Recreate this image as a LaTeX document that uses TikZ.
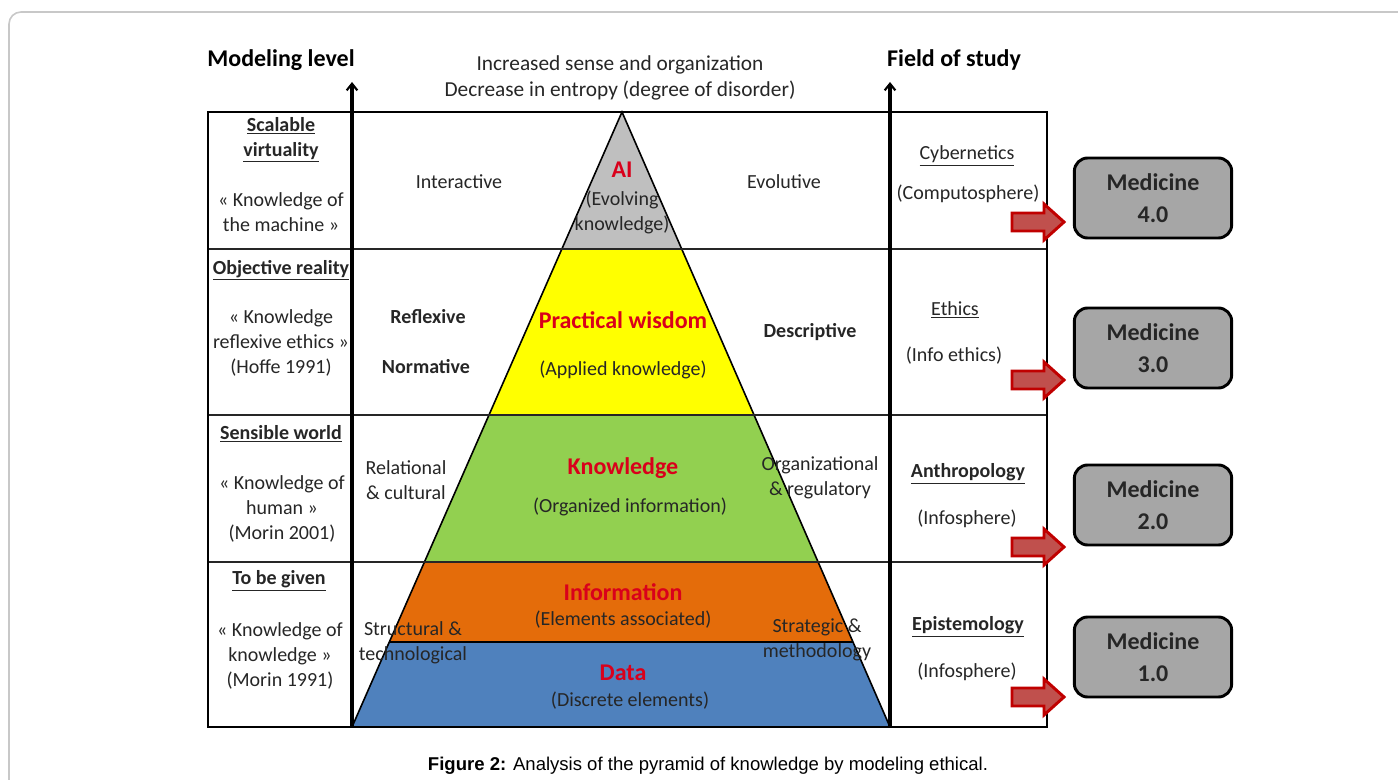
\documentclass[tikz,border=0pt]{standalone}
\usepackage{fontspec}
\setmainfont{Carlito}
\newfontfamily\capfont{Liberation Sans}
\usetikzlibrary{calc,arrows.meta}
\definecolor{framegray}{HTML}{C8C8C8}
\definecolor{aigray}{HTML}{BFBFBF}
\definecolor{wisyellow}{HTML}{FFFF00}
\definecolor{knowgreen}{HTML}{92D050}
\definecolor{infoorange}{HTML}{E46C0A}
\definecolor{datablue}{HTML}{4F81BD}
\definecolor{titlered}{HTML}{D9001B}
\definecolor{medgray}{HTML}{A6A6A6}
\definecolor{arrowfill}{HTML}{C0504D}
\definecolor{arrowdraw}{HTML}{C00000}
\definecolor{inkgray}{HTML}{262626}
\tikzset{
  txt/.style={font=\fontsize{15}{18.75}\selectfont, align=center, inner sep=0pt, text=inkgray},
  btxt/.style={txt, font=\fontsize{15}{18.75}\selectfont\bfseries},
  head/.style={inner sep=0pt, font=\fontsize{18}{22}\selectfont\bfseries},
  layer/.style={inner sep=0pt, text=titlered, font=\fontsize{18}{22}\selectfont\bfseries},
  rowline/.style={draw=inkgray, line width=1.1pt},
  axis/.style={line width=2.6pt, -{Straight Barb[length=5pt,width=8pt,line width=1.6pt]}},
  redarrow/.style={fill=arrowfill, draw=arrowdraw, line width=2.2pt},
  medbox/.style={draw, line width=2.2pt, rounded corners=10pt, fill=medgray, align=center,
    minimum width=118pt, minimum height=60pt, inner sep=0pt,
    font=\fontsize{18}{24}\selectfont\bfseries, text=inkgray}
}
\begin{document}
\begin{tikzpicture}[x=0.75pt,y=-0.75pt]
  \useasboundingbox (0,0) rectangle (1398,780);
  \draw[framegray, line width=1.2pt, rounded corners=9pt] (9,12) rectangle (1430,810);

  % pyramid layers
  \coordinate (apex) at (622,112);
  \coordinate (bl) at (352,727);
  \coordinate (br) at (890,727);
  \begin{scope}
    \clip (apex) -- (bl) -- (br) -- cycle;
    \fill[aigray] (352,112) rectangle (890,249);
    \fill[wisyellow] (352,249) rectangle (890,415);
    \fill[knowgreen] (352,415) rectangle (890,562);
    \fill[infoorange] (352,562) rectangle (890,642);
    \fill[datablue] (352,642) rectangle (890,727);
  \end{scope}
  \draw[line width=2pt] ($(apex)!0.8618!(bl)$) -- ($(apex)!0.8618!(br)$);
  \draw[line width=1.2pt] (bl) -- (apex) -- (br);

  % table
  \foreach \y in {249,415,562}
    \draw[rowline] (208,\y) -- (1047,\y);
  \draw[line width=1.4pt] (208,112) rectangle (1047,727);
  \coordinate (lvb) at (352,727);
  \coordinate (lvt) at (352,82);
  \coordinate (rvb) at (890,727);
  \coordinate (rvt) at (890,82);
  \draw[axis] (lvb) -- (lvt);
  \draw[axis] (rvb) -- (rvt);

  % headings
  \node[head] (hmodel) at (281,60) {Modeling level};
  \node[head] (hfield) at (954,60) {Field of study};
  \node[txt, font=\fontsize{16}{19}\selectfont] (hsense) at (620,78) {Increased sense and organization\\Decrease in entropy (degree of disorder)};

  % modeling level column
  \node[btxt] (scal) at (281,140) {\underline{Scalable}\\\underline{virtuality}};
  \node[txt] (scalq) at (281,212) {« Knowledge of\\the machine »};
  \node[btxt] (obj) at (281,270) {\underline{Objective reality}};
  \node[txt] (objq) at (281,343) {« Knowledge\\reflexive ethics »\\(Hoffe 1991)};
  \node[btxt] (sens) at (281,434) {\underline{Sensible world}};
  \node[txt] (sensq) at (282,509) {« Knowledge of\\human »\\(Morin 2001)};
  \node[btxt] (given) at (279,581) {\underline{To be given}};
  \node[txt] (givenq) at (280,656) {« Knowledge of\\knowledge »\\(Morin 1991)};

  % side labels
  \node[txt] (inter) at (459,182) {Interactive};
  \node[btxt] (refl) at (428,317) {Reflexive};
  \node[btxt] (norm) at (426,367) {Normative};
  \node[txt] (relat) at (406,480) {Relational\\\& cultural};
  \node[txt] (struct) at (413,643) {Structural \&\\technological};
  \node[txt] (evol) at (784,182) {Evolutive};
  \node[btxt] (descr) at (810,332) {Descriptive};
  \node[txt] (organ) at (820,478) {Organizational\\\& regulatory};
  \node[txt] (strat) at (817,640) {Strategic \&\\methodology};

  % pyramid labels
  \node[layer] (ai) at (622,170) {AI};
  \node[txt] (aisub) at (622,212) {(Evolving\\knowledge)};
  \node[layer] (wis) at (623,320) {Practical wisdom};
  \node[txt] (wissub) at (623,370) {(Applied knowledge)};
  \node[layer] (know) at (623,468) {Knowledge};
  \node[txt] (knowsub) at (630,507) {(Organized information)};
  \node[layer] (info) at (623,592) {Information};
  \node[txt] (infosub) at (623,620) {(Elements associated)};
  \node[layer] (data) at (623,673) {Data};
  \node[txt] (datasub) at (630,701) {(Discrete elements)};

  % field of study column
  \node[txt] (cyb) at (967,156) {\underline{Cybernetics}};
  \node[txt] (cybq) at (968,194) {(Computosphere)};
  \node[txt] (eth) at (955,310) {\underline{Ethics}};
  \node[txt] (ethq) at (954,356) {(Info ethics)};
  \node[btxt] (anth) at (968,474) {\underline{Anthropology}};
  \node[txt] (anthq) at (967,519) {(Infosphere)};
  \node[btxt] (epis) at (968,627) {\underline{Epistemology}};
  \node[txt] (episq) at (967,672) {(Infosphere)};

  % arrows to medicine
  \foreach \y in {222,380,547,697}
    \filldraw[redarrow] (1012,\y-9) -- (1044,\y-9) -- (1044,\y-18) -- (1064,\y)
      -- (1044,\y+18) -- (1044,\y+9) -- (1012,\y+9) -- cycle;
  \node[medbox] (med4) at (1153,198) {Medicine\\4.0};
  \node[medbox] (med3) at (1153,348) {Medicine\\3.0};
  \node[medbox] (med2) at (1153,505) {Medicine\\2.0};
  \node[medbox] (med1) at (1153,657) {Medicine\\1.0};

  \node[inner sep=0pt, font=\capfont\fontsize{13.9}{16}\selectfont] (cap) at (708,766)
    {\textbf{Figure 2:} Analysis of the pyramid of knowledge by modeling ethical.};
\end{tikzpicture}
\end{document}
